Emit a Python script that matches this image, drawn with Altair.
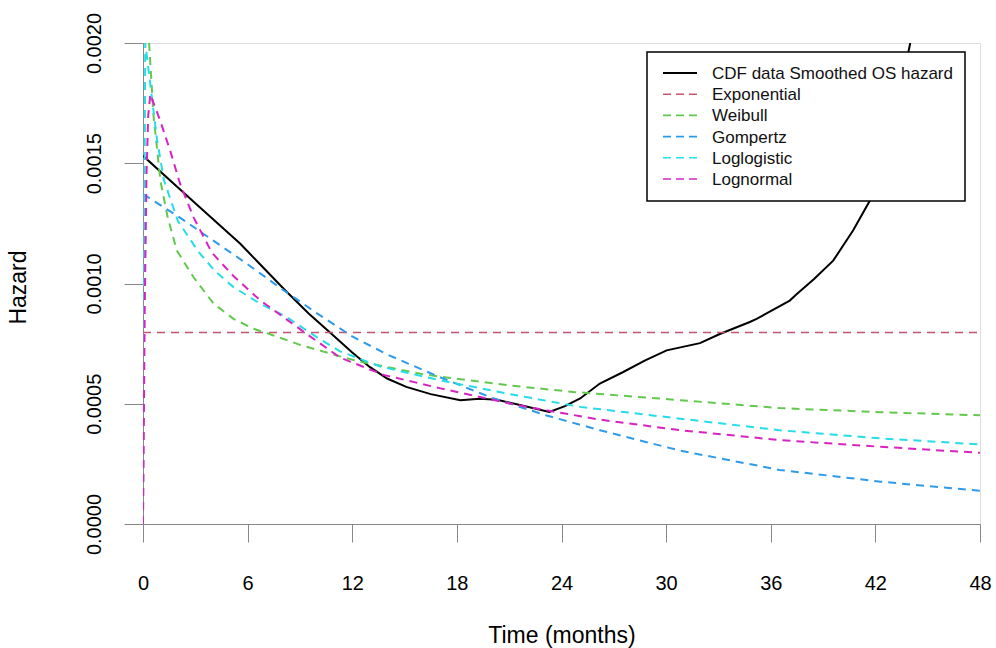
import altair as alt
import pandas as pd

FONT = "Liberation Sans"

series_names = ["CDF data Smoothed OS hazard", "Exponential", "Weibull",
                "Gompertz", "Loglogistic", "Lognormal"]
series_colors = ["#000000", "#C4546F", "#62C94E", "#2E9BEA", "#25DDE6", "#D922C3"]

x_ticks = [0, 6, 12, 18, 24, 30, 36, 42, 48]
y_ticks = [0.0, 0.0005, 0.0010, 0.0015, 0.0020]

# CDF data smoothed OS hazard (solid black)
cdf_t = [0, 3, 5.58, 8.15, 9.5, 10.9, 12, 13, 14, 15.1, 16.5, 18.2, 19.3, 20.3,
         21.8, 23.3, 24.2, 25.07, 26.2, 27.54, 28.8, 30.03, 31.94, 33.08, 34.8,
         35.19, 37.09, 37.48, 38.5, 39.58, 40.72, 41.68, 42.4, 43.2, 44.0]
cdf_h = [0.001531, 0.001334, 0.001165, 0.000972, 0.000875, 0.000785, 0.000713,
         0.000653, 0.000605, 0.000570, 0.000540, 0.000515, 0.000521, 0.000517,
         0.000492, 0.000466, 0.000490, 0.000522, 0.000584, 0.000632, 0.000680,
         0.000722, 0.000752, 0.000790, 0.000840, 0.000853, 0.000929, 0.000955,
         0.001020, 0.001095, 0.001220, 0.001344, 0.001470, 0.001720, 0.002000]

exp_t = [0, 48]
exp_h = [0.000796, 0.000796]

wei_t = [0.35, 0.6, 1.0, 1.4, 1.94, 2.9, 4.05, 5.19, 6.34, 7.49, 9.0, 11.3,
         12.45, 15.9, 17.4, 20.9, 24.7, 30.8, 36.5, 42.3, 48]
wei_h = [0.002000, 0.001700, 0.001427, 0.001280, 0.001137, 0.001026, 0.000916,
         0.000853, 0.000812, 0.000784, 0.000745, 0.000697, 0.000675, 0.000625,
         0.000609, 0.000577, 0.000549, 0.000515, 0.000482, 0.000465, 0.000452]

gom_t = [0, 2, 4, 6, 8, 10, 12, 14, 17, 20, 23.1, 26.2, 30.8, 36.5, 42.3, 48]
gom_h = [0.001372, 0.001280, 0.001180, 0.001080, 0.000975, 0.000875, 0.000780,
         0.000705, 0.000611, 0.000525, 0.000452, 0.000390, 0.000305, 0.000225,
         0.000176, 0.000138]

llg_t = [0, 0.13, 0.5, 0.8, 1.2, 2.0, 3.2, 4.1, 5.19, 6.72, 8.25, 10.0, 11.3,
         13.6, 17.0, 20.9, 25.07, 30.8, 36.5, 42.3, 48]
llg_h = [0.0, 0.002000, 0.001780, 0.001600, 0.001430, 0.001260, 0.001130,
         0.001054, 0.000985, 0.000916, 0.000860, 0.000775, 0.000718, 0.000655,
         0.000598, 0.000542, 0.000487, 0.000438, 0.000390, 0.000356, 0.000331]

lgn_t = [0, 0.1, 0.2, 0.3, 0.42, 0.99, 1.56, 2.13, 2.9, 3.95, 5.2, 6.72, 8.25,
         9.2, 11.3, 13.8, 17.0, 20.9, 23.1, 26.2, 30.8, 36.5, 42.3, 48]
lgn_h = [0.0, 0.000900, 0.001450, 0.001700, 0.001787, 0.001676, 0.001552,
         0.001414, 0.001275, 0.001128, 0.001030, 0.000930, 0.000850, 0.000800,
         0.000692, 0.000620, 0.000565, 0.000503, 0.000473, 0.000434, 0.000390,
         0.000349, 0.000321, 0.000296]

series_data = [(cdf_t, cdf_h), (exp_t, exp_h), (wei_t, wei_h),
               (gom_t, gom_h), (llg_t, llg_h), (lgn_t, lgn_h)]

W, H = 837, 481
DASH = [8, 6]

x_enc = alt.X(
    "t:Q",
    scale=alt.Scale(domain=[0, 48], nice=False, zero=False),
    axis=alt.Axis(values=x_ticks, title="Time (months)", grid=False,
                  labelFontSize=20, labelFont=FONT, labelColor="black",
                  labelBaseline="alphabetic", labelPadding=47, tickSize=18,
                  labelFlush=False, labelOverlap=False,
                  titleFont=FONT, titleFontSize=23, titleFontWeight="normal",
                  titleColor="black", titleX=W / 2, titleY=118,
                  titleAlign="center", titleBaseline="alphabetic"),
)
y_enc = alt.Y(
    "h:Q",
    scale=alt.Scale(domain=[0, 0.002], nice=False, zero=True),
    axis=alt.Axis(values=y_ticks, format=".4f", title="Hazard", grid=False,
                  labelFontSize=20, labelFont=FONT, labelColor="black",
                  labelAngle=-90, labelAlign="center", labelBaseline="alphabetic",
                  labelPadding=24, tickSize=19, labelFlush=False,
                  labelOverlap=False,
                  titleFont=FONT, titleFontSize=23, titleFontWeight="normal",
                  titleColor="black", titleAngle=-90, titleX=-118, titleY=244,
                  titleAlign="center", titleBaseline="alphabetic"),
)

layers = []
for i, (name, color, (ts, hs)) in enumerate(zip(series_names, series_colors, series_data)):
    df = pd.DataFrame({"t": ts, "h": hs, "series": name})
    if i == 0:
        mk = alt.Chart(df).mark_line(color=color, strokeWidth=2, clip=True)
    else:
        mk = alt.Chart(df).mark_line(color=color, strokeWidth=2 if i > 1 else 1.6,
                                     strokeDash=DASH, clip=True)
    layers.append(mk.encode(x=x_enc, y=y_enc))

# legend box (decoration)
one = pd.DataFrame({"k": [0]})
layers.append(
    alt.Chart(one).mark_rect(fill="white", stroke="black", strokeWidth=1.5).encode(
        x=alt.value(504), x2=alt.value(822), y=alt.value(9), y2=alt.value(158))
)
for i, (name, color) in enumerate(zip(series_names, series_colors)):
    yy = 30 + 21.2 * i
    if i == 0:
        sym = alt.Chart(one).mark_rule(color=color, strokeWidth=2)
    else:
        sym = alt.Chart(one).mark_rule(color=color, strokeWidth=1.6, strokeDash=[8, 5])
    layers.append(sym.encode(x=alt.value(520), x2=alt.value(554), y=alt.value(yy)))
    layers.append(
        alt.Chart(one).mark_text(align="left", baseline="middle", font=FONT,
                                 fontSize=17, color="#111").encode(
            x=alt.value(569), y=alt.value(yy + 1), text=alt.value(name))
    )

chart = alt.layer(*layers).properties(
    width=W, height=H,
    padding={"left": 143, "top": 43, "right": 16, "bottom": 124},
    autosize=alt.AutoSizeParams(type="none"),
).configure_view(stroke="#333", strokeWidth=1.5).configure_axis(
    domainColor="black", domainWidth=1.5, tickColor="black", tickWidth=1.5
).configure(background="white")

chart.save("out.html", embed_options={"renderer": "svg", "actions": False})
